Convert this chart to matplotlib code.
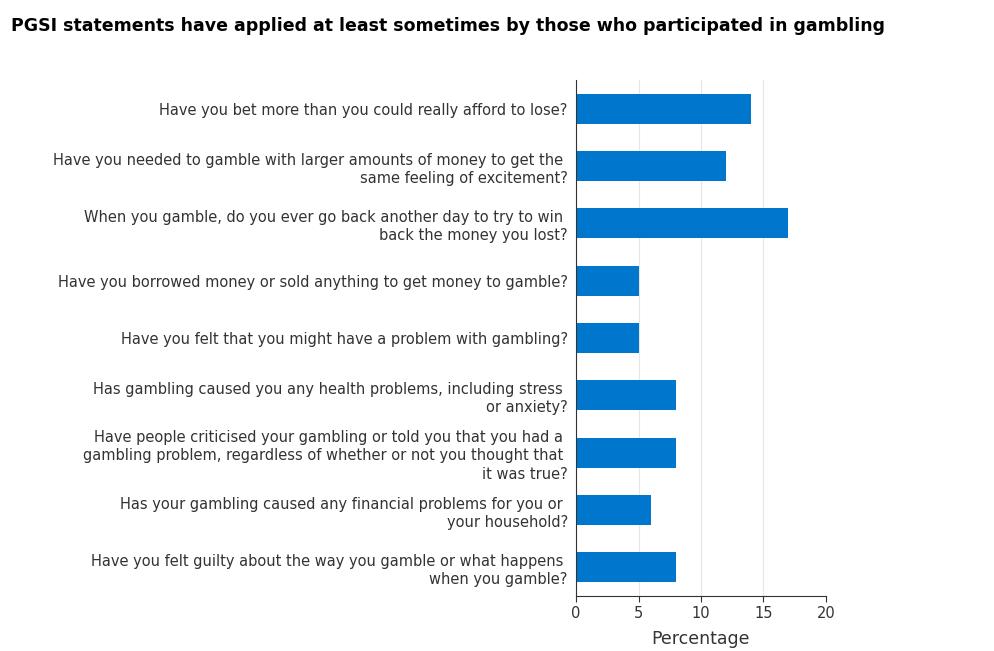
import matplotlib
matplotlib.use("Agg")
import matplotlib.pyplot as plt

categories = [
    "Have you bet more than you could really afford to lose?",
    "Have you needed to gamble with larger amounts of money to get the \nsame feeling of excitement?",
    "When you gamble, do you ever go back another day to try to win \nback the money you lost?",
    "Have you borrowed money or sold anything to get money to gamble?",
    "Have you felt that you might have a problem with gambling?",
    "Has gambling caused you any health problems, including stress \nor anxiety?",
    "Have people criticised your gambling or told you that you had a \ngambling problem, regardless of whether or not you thought that \nit was true?",
    "Has your gambling caused any financial problems for you or \nyour household?",
    "Have you felt guilty about the way you gamble or what happens \nwhen you gamble?",
]
values = [14, 12, 17, 5, 5, 8, 8, 6, 8]
ticks = [0, 5, 10, 15, 20]

fig = plt.figure(figsize=(9.95, 6.51), dpi=100)
ax = fig.add_axes([0.579, 0.0845, 0.251, 0.7925])
y = list(range(len(categories)))
ax.barh(y, values, height=0.52, color="#0077cc", zorder=2)
ax.set_ylim(len(categories) - 0.5, -0.5)
ax.set_xlim(0, 20)
ax.set_xticks(ticks)
ax.set_xticklabels([str(t) for t in ticks])
ax.set_yticks(y)
ax.set_yticklabels(categories, fontsize=10.5, color="#333333", linespacing=1.3)
ax.tick_params(axis="y", length=0, pad=6)
ax.tick_params(axis="x", length=4, labelsize=10.5, colors="#333333")
ax.grid(axis="x", color="#e6e6e6", zorder=0)
for s in ["top", "right"]:
    ax.spines[s].set_visible(False)
ax.spines["left"].set_color("#333333")
ax.spines["bottom"].set_color("#333333")
ax.set_xlabel("Percentage", fontsize=12.5, color="#333333", labelpad=6)
fig.text(0.011, 0.96, "PGSI statements have applied at least sometimes by those who participated in gambling",
         fontsize=12.5, fontweight="bold", va="center", ha="left")
fig.savefig("out.png", dpi=100)
